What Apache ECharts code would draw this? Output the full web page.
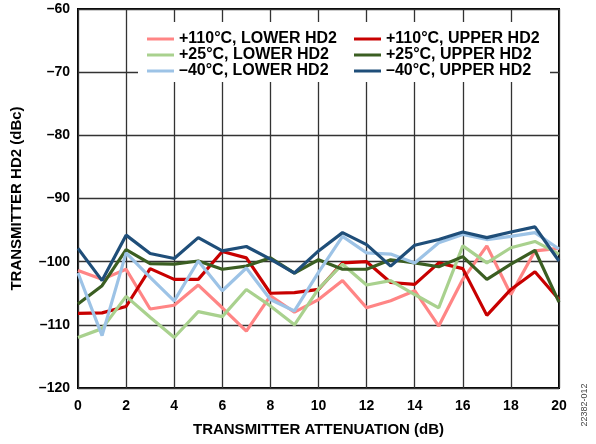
<!DOCTYPE html>
<html><head><meta charset="utf-8">
<script src="https://cdn.jsdelivr.net/npm/echarts@6/dist/echarts.min.js"></script>
<style>html,body{margin:0;padding:0;background:#fff}#c{width:596px;height:444px}</style>
</head><body><div id="c"></div>
<script>
const attenuation = [0,1,2,3,4,5,6,7,8,9,10,11,12,13,14,15,16,17,18,19,20];
const lower110 = [-101.4,-102.8,-101.2,-107.5,-106.9,-103.7,-107.3,-111.0,-105.4,-108.0,-106.0,-103.0,-107.3,-106.2,-104.6,-110.2,-102.8,-97.5,-105.2,-98.3,-97.9];
const upper110 = [-108.2,-108.1,-107.1,-101.1,-102.8,-102.8,-98.4,-99.4,-105.0,-104.9,-104.4,-100.2,-100.0,-103.3,-103.6,-100.2,-101.1,-108.5,-104.4,-101.6,-106.0];
const lower25 = [-112.0,-110.6,-105.5,-108.8,-112.0,-107.9,-108.7,-104.4,-107.0,-110.0,-104.3,-100.4,-103.7,-103.0,-105.2,-107.3,-97.5,-100.2,-97.8,-96.8,-98.8];
const upper25 = [-106.7,-103.8,-98.1,-100.3,-100.4,-99.9,-101.2,-100.7,-99.4,-101.8,-99.7,-101.2,-101.2,-99.7,-100.2,-100.8,-99.2,-102.8,-100.4,-98.2,-106.4];
const lower40 = [-101.8,-111.7,-98.6,-102.5,-106.2,-99.9,-104.6,-101.0,-106.0,-107.8,-101.7,-96.0,-98.6,-98.8,-100.2,-97.0,-95.7,-96.5,-96.0,-95.4,-98.0];
const upper40 = [-97.9,-103.0,-95.8,-98.7,-99.5,-96.2,-98.3,-97.6,-99.6,-101.8,-98.3,-95.4,-97.3,-100.7,-97.4,-96.5,-95.3,-96.2,-95.3,-94.5,-99.9];
const seriesNames = ['+110°C, LOWER HD2','+110°C, UPPER HD2','+25°C, LOWER HD2','+25°C, UPPER HD2','\u201340°C, LOWER HD2','\u201340°C, UPPER HD2'];
const seriesData = [lower110, upper110, lower25, upper25, lower40, upper40];
const colors = ['#FF8585','#C80000','#A9D18E','#3B5E22','#9DC3E6','#1F4E79'];

const F = 'Liberation Sans, Arial, sans-serif';
const chart = echarts.init(document.getElementById('c'), null, {renderer:'canvas'});
const legendCommon = {
  orient:'vertical', top:26, itemWidth:27, itemHeight:3, itemGap:0, icon:'rect',
  textStyle:{fontFamily:F, fontSize:16, fontWeight:'bold', color:'#000', lineHeight:15.5}
};
chart.setOption({
  animation:false,
  backgroundColor:'#fff',
  grid:{left:78, right:37, top:9, bottom:56, show:true, borderColor:'#000', borderWidth:2, backgroundColor:'transparent'},
  legend:[
    Object.assign({left:142, data:[seriesNames[0],seriesNames[2],seriesNames[4]]}, legendCommon),
    Object.assign({left:349, data:[seriesNames[1],seriesNames[3],seriesNames[5]]}, legendCommon)
  ],
  graphic:[{type:'rect', z:1, shape:{x:138,y:22,width:412,height:60}, style:{fill:'#fff'}, silent:true},
    {type:'text', z:5, x:585, y:405, rotation:Math.PI/2, style:{text:'22382-012', font:'9px '+F, fill:'#444', align:'center', verticalAlign:'middle'}}],
  xAxis:{type:'value', min:0, max:20, interval:2,
    name:'TRANSMITTER ATTENUATION (dB)', nameLocation:'middle', nameGap:34,
    nameTextStyle:{fontFamily:F, fontSize:15, fontWeight:'bold', color:'#000'},
    axisLine:{show:false}, axisTick:{show:false},
    axisLabel:{fontFamily:F, fontSize:14, fontWeight:'bold', color:'#000', margin:11},
    splitLine:{show:true, lineStyle:{color:'#333', width:1.3}}},
  yAxis:{type:'value', min:-120, max:-60, interval:10,
    name:'TRANSMITTER HD2 (dBc)', nameLocation:'middle', nameGap:54, nameRotate:90,
    nameTextStyle:{fontFamily:F, fontSize:15, fontWeight:'bold', color:'#000'},
    axisLine:{show:false}, axisTick:{show:false},
    axisLabel:{fontFamily:F, fontSize:14, fontWeight:'bold', color:'#000', margin:8,
      formatter:v=> (v<0? '\u2013'+Math.abs(v) : String(v))},
    splitLine:{show:true, lineStyle:{color:'#333', width:1.3}}},
  series: seriesNames.map((n,i)=>({
    name:n, type:'line', symbol:'none', z:2,
    data: attenuation.map((x,j)=>[x, seriesData[i][j]]),
    lineStyle:{color:colors[i], width:3.2}, itemStyle:{color:colors[i]}
  }))
});
</script></body></html>
